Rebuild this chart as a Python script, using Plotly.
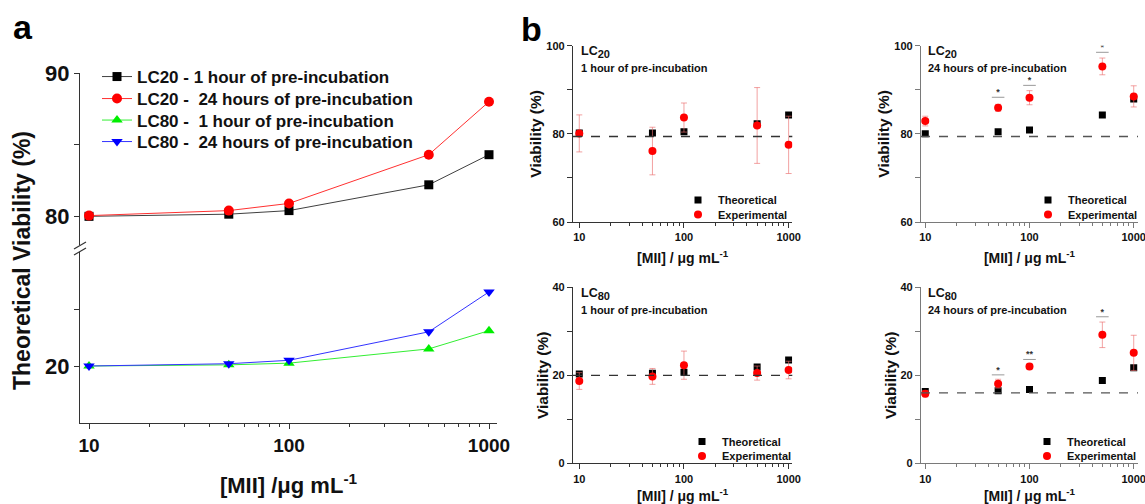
import plotly.graph_objects as go

W, H = 1145, 504

# ---------------- data ----------------
conc = [10, 50, 100, 500, 1000]
minor_ticks = [20, 30, 40, 50, 60, 70, 80, 90, 200, 300, 400, 500, 600, 700, 800, 900]

# panel a (theoretical viability)
a_lc20_1h = [80.0, 80.15, 80.4, 82.2, 84.3]
a_lc20_24h = [80.05, 80.4, 80.9, 84.3, 88.0]
a_lc80_1h = [20.0, 20.1, 20.25, 21.5, 23.1]
a_lc80_24h = [20.0, 20.2, 20.5, 23.0, 26.5]
a_names = ["LC20 - 1 hour of pre-incubation",
           "LC20 -\u00a0 24 hours of pre-incubation",
           "LC80 -\u00a0 1 hour of pre-incubation",
           "LC80 -\u00a0 24 hours of pre-incubation"]

# panel b
b_lc20_1h_theo = [80.2, 80.2, 80.45, 82.3, 84.3]
b_lc20_1h_exp = [80.1, 76.1, 83.7, 81.9, 77.5]
b_lc20_1h_err = [4.2, 5.4, 3.3, 8.6, 6.5]
b_lc20_24h_theo = [80.0, 80.45, 80.9, 84.3, 87.9]
b_lc20_24h_exp = [82.9, 85.9, 88.2, 95.3, 88.5]
b_lc20_24h_err = [1.1, 0.8, 1.6, 1.9, 2.4]
b_lc80_1h_theo = [20.3, 20.45, 20.7, 21.9, 23.5]
b_lc80_1h_exp = [18.7, 19.75, 22.3, 20.5, 21.2]
b_lc80_1h_err = [1.9, 1.8, 3.2, 1.6, 2.0]
b_lc80_24h_theo = [16.3, 16.5, 16.8, 18.8, 21.7]
b_lc80_24h_exp = [15.8, 18.1, 22.0, 29.2, 25.1]
b_lc80_24h_err = [0.7, 1.0, 0.6, 2.9, 4.0]
thresholds = [79.4, 79.4, 20.0, 16.0]

sig_x = [50, 100, 500]
sig_lc20_24h_y = [88.3, 91.0, 98.5]
sig_lc20_24h_lab = ["*", "*", "*"]
sig_lc80_24h_y = [20.1, 23.6, 33.3]
sig_lc80_24h_lab = ["*", "**", "*"]

SUB = "<sub><span style='font-size:11px'>%s</span></sub>"
b_titles = [("LC" + SUB % "20", "1 hour of pre-incubation"),
            ("LC" + SUB % "20", "24 hours of pre-incubation"),
            ("LC" + SUB % "80", "1 hour of pre-incubation"),
            ("LC" + SUB % "80", "24 hours of pre-incubation")]

FONT = "Liberation Sans, Arial, sans-serif"
AX = "#333333"
AX_R = "#7a7a7a"


def px(x):
    return x / W


def py(y):
    return 1 - y / H


fig = go.Figure()
layout_legends = {}

# ---------------- panel a ----------------
styles = [("#404040", "#000000", "square", 9, "y2"),
          ("#ff3030", "#ff0000", "circle", 10, "y2"),
          ("#33ee33", "#00ee00", "triangle-up", 10, "y"),
          ("#3333ff", "#0000ff", "triangle-down", 10, "y")]
a_leg_y = [77, 99, 120.5, 142]
for i, (vals, name, (lc, mc, sym, sz, yax)) in enumerate(zip(
        [a_lc20_1h, a_lc20_24h, a_lc80_1h, a_lc80_24h], a_names, styles)):
    lg = "legend" if i == 0 else "legend%d" % (i + 1)
    fig.add_trace(go.Scatter(x=conc, y=vals, name=name, mode="lines+markers",
                             line=dict(color=lc, width=1),
                             marker=dict(color=mc, symbol=sym, size=sz),
                             xaxis="x", yaxis=yax, legend=lg))
    layout_legends[lg] = dict(x=px(97), y=py(a_leg_y[i]), xanchor="left", yanchor="middle",
                              font=dict(size=17, weight="bold"), bgcolor="rgba(0,0,0,0)",
                              itemwidth=30)

# ---------------- panel b ----------------
b_sets = [
    (b_lc20_1h_theo, b_lc20_1h_exp, b_lc20_1h_err, "x2", "y3", (678, 200)),
    (b_lc20_24h_theo, b_lc20_24h_exp, b_lc20_24h_err, "x3", "y4", (1028, 200)),
    (b_lc80_1h_theo, b_lc80_1h_exp, b_lc80_1h_err, "x4", "y5", (682, 441.5)),
    (b_lc80_24h_theo, b_lc80_24h_exp, b_lc80_24h_err, "x5", "y6", (1027, 441.5)),
]
n = 5
for theo, exp, err, xa, ya, (lx, ly) in b_sets:
    lg1, lg2 = "legend%d" % n, "legend%d" % (n + 1)
    n += 2
    fig.add_trace(go.Scatter(x=conc, y=theo, name="Theoretical", mode="markers",
                             marker=dict(color="#000000", symbol="square", size=7),
                             xaxis=xa, yaxis=ya, legend=lg1))
    fig.add_trace(go.Scatter(x=conc, y=exp, name="Experimental", mode="markers",
                             marker=dict(color="#ff0000", symbol="circle", size=8),
                             error_y=dict(type="data", array=err, color="rgba(235,110,110,0.65)",
                                          thickness=1, width=3),
                             xaxis=xa, yaxis=ya, legend=lg2))
    for lg, yy in [(lg1, ly), (lg2, ly + 14.5)]:
        layout_legends[lg] = dict(x=px(lx), y=py(yy), xanchor="left", yanchor="middle",
                                  font=dict(size=11, weight="bold"),
                                  bgcolor="rgba(0,0,0,0)", itemwidth=30)

for ys, labs, xa, ya in [(sig_lc20_24h_y, sig_lc20_24h_lab, "x3", "y4"),
                         (sig_lc80_24h_y, sig_lc80_24h_lab, "x5", "y6")]:
    fig.add_trace(go.Scatter(x=sig_x, y=ys, mode="markers",
                             marker=dict(symbol="line-ew-open", size=9, color="#999999",
                                         line=dict(color="#999999", width=1)),
                             showlegend=False, hoverinfo="skip", xaxis=xa, yaxis=ya))
    fig.add_trace(go.Scatter(x=sig_x, y=ys, mode="text", text=labs,
                             textposition="top center",
                             textfont=dict(size=9, color="#333333"),
                             showlegend=False, hoverinfo="skip", xaxis=xa, yaxis=ya))


# ---------------- layout ----------------
def xax(domain, rng, anchor, tick_size, title=None, ticklen=5, color=AX):
    d = dict(domain=domain, type="log", range=rng, anchor=anchor,
             showline=True, linecolor=color, linewidth=1.2, mirror=False,
             ticks="outside", ticklen=ticklen, tickcolor=color,
             tickvals=[10, 100, 1000], ticktext=["10", "100", "1000"],
             tickfont=dict(size=tick_size, color="#111111", weight="bold"),
             ticklabeloverflow="allow",
             minor=dict(ticks="outside", ticklen=3, tickcolor=color, showgrid=False,
                        tickvals=minor_ticks),
             showgrid=False, zeroline=False, automargin=False)
    if title:
        d["title"] = dict(text=title[0], font=dict(size=title[1], weight="bold"),
                          standoff=title[2])
    return d


def yax(domain, rng, anchor, tickvals, ticktext, tick_size, title=None, color=AX):
    d = dict(domain=domain, range=rng, anchor=anchor,
             showline=True, linecolor=color, linewidth=1.2,
             ticks="outside", ticklen=5, tickcolor=color,
             tickvals=tickvals, ticktext=ticktext,
             tickfont=dict(size=tick_size, color="#111111", weight="bold"),
             showgrid=False, zeroline=False, automargin=False)
    if title:
        d["title"] = dict(text=title[0], font=dict(size=title[1], weight="bold"),
                          standoff=title[2])
    return d


xa_dom = [px(80), px(497)]
bl_dom = [px(573), px(792.3)]
br_dom = [px(921), px(1138)]
bt_dom = [py(222), py(45.7)]
bb_dom = [py(463.3), py(287.3)]
xt = ("[MII] / \u03bcg mL<sup>-1</sup>", 14, 10)
yt = ("Viability (%)", 15.5, 0)
t20 = [60, 70, 80, 90, 100]
l20 = ["60", "", "80", "", "100"]
t80 = [0, 10, 20, 30, 40]
l80 = ["0", "", "20", "", "40"]

layout = dict(
    width=W, height=H, template="none",
    margin=dict(l=0, r=0, t=0, b=0),
    paper_bgcolor="white", plot_bgcolor="rgba(0,0,0,0)",
    font=dict(family=FONT, color="#111111", weight="bold"),
    xaxis=xax(xa_dom, [0.955, 3.04], "y", 19,
              ("[MII] /\u03bcg mL<sup>-1</sup>", 22, 22)),
    yaxis=yax([py(423), py(252)], [15, 30], "x", [20, 25], ["20", ""], 22),
    yaxis2=yax([py(245), py(73)], [78, 90], "x", [80, 85, 90], ["80", "", "90"], 22),
    xaxis2=xax(bl_dom, [0.94, 3.035], "y3", 11, xt),
    yaxis3=yax(bt_dom, [60, 100], "x2", t20, l20, 11, yt),
    xaxis3=xax(br_dom, [0.959, 3.041], "y4", 11, xt, color=AX_R),
    yaxis4=yax(bt_dom, [60, 100], "x3", t20, l20, 11, yt, color=AX_R),
    xaxis4=xax(bl_dom, [0.94, 3.035], "y5", 11, xt),
    yaxis5=yax(bb_dom, [0, 40], "x4", t80, l80, 11, yt),
    xaxis5=xax(br_dom, [0.959, 3.041], "y6", 11, xt, color=AX_R),
    yaxis6=yax(bb_dom, [0, 40], "x5", t80, l80, 11, yt, color=AX_R),
)
layout.update(layout_legends)
fig.update_layout(**layout)

# dashed threshold lines
for thr, xa, ya, col in zip(thresholds, ["x2", "x3", "x4", "x5"], ["y3", "y4", "y5", "y6"],
                            ["#333333", "#555555", "#333333", "#555555"]):
    fig.add_shape(type="line", xref=xa + " domain", x0=0, x1=1, yref=ya, y0=thr, y1=thr,
                  line=dict(color=col, width=1.3, dash="dash"))

# axis break marks (panel a)
for yy in [249, 255]:
    fig.add_shape(type="line", xref="paper", yref="paper",
                  x0=px(74), x1=px(86), y0=py(yy), y1=py(yy - 7),
                  line=dict(color=AX, width=1.2))

# annotations
ann = [
    dict(text="a", x=px(11), y=py(6), font=dict(size=34, weight="bold", color="black")),
    dict(text="b", x=px(519), y=py(8), font=dict(size=34, weight="bold", color="black")),
    dict(text="Theoretical Viability (%)", x=px(22), y=py(261), textangle=-90,
         font=dict(size=23, weight="bold"), xanchor="center", yanchor="middle"),
]
for (lc, sub), (ax_x, ax_y) in zip(b_titles, [(579, 42), (926, 42), (579, 284), (926, 284)]):
    ann.append(dict(text=lc, x=px(ax_x), y=py(ax_y), font=dict(size=12.5, weight="bold")))
    ann.append(dict(text=sub, x=px(ax_x), y=py(ax_y + 18), font=dict(size=11, weight="bold")))
for a in ann:
    a.setdefault("xanchor", "left")
    a.setdefault("yanchor", "top")
    a.update(xref="paper", yref="paper", showarrow=False)
    fig.add_annotation(**a)

fig.write_html("out.html")
